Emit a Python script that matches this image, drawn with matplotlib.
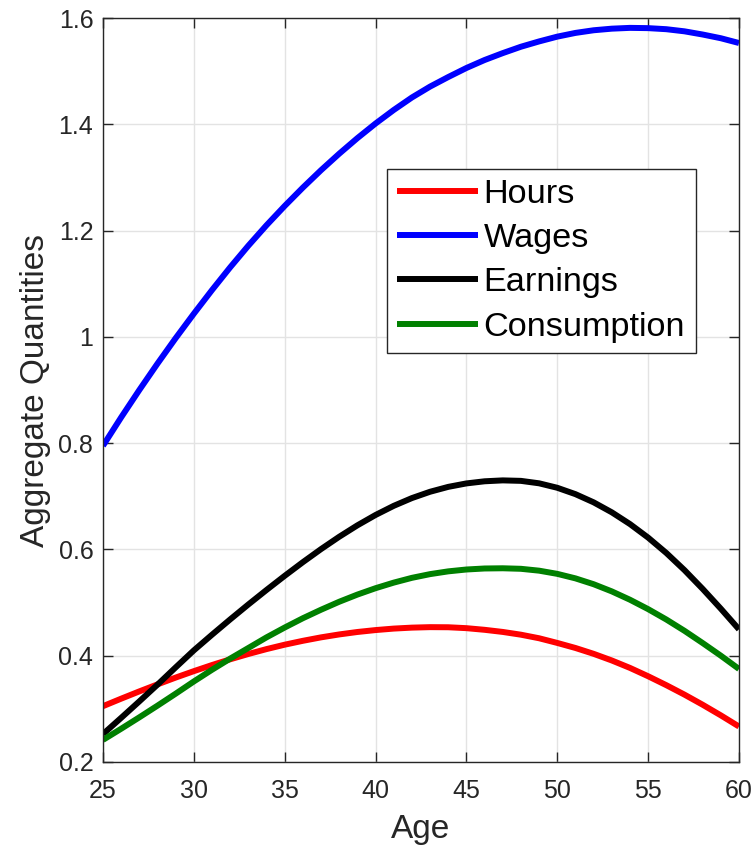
import numpy as np
import matplotlib
matplotlib.use("Agg")
import matplotlib.pyplot as plt

plt.rcParams["font.family"] = ["Liberation Sans", "DejaVu Sans"]

# Life-cycle profiles by age
ages = np.arange(25, 61)

hours = [0.305, 0.3191, 0.3328, 0.3460, 0.3588, 0.3709, 0.3824, 0.3932, 0.4032, 0.4124,
         0.4207, 0.4280, 0.4345, 0.4400, 0.4446, 0.4482, 0.4510, 0.4528, 0.4537, 0.4535,
         0.4518, 0.4487, 0.4447, 0.4395, 0.4328, 0.4240, 0.4145, 0.4035, 0.3910, 0.3770,
         0.3613, 0.3445, 0.3267, 0.3077, 0.2877, 0.2667]

wages = [0.795, 0.8485, 0.900, 0.9497, 0.9976, 1.0436, 1.0881, 1.1309, 1.1716, 1.2101,
         1.2464, 1.2809, 1.3137, 1.3447, 1.374, 1.4015, 1.427, 1.4505, 1.471, 1.489,
         1.506, 1.521, 1.534, 1.546, 1.556, 1.565, 1.572, 1.577, 1.580, 1.5815,
         1.581, 1.579, 1.575, 1.569, 1.562, 1.553]

earnings = [0.2525, 0.283, 0.314, 0.3455, 0.378, 0.410, 0.4395, 0.4683, 0.4964, 0.5237,
            0.5503, 0.5760, 0.6006, 0.6238, 0.6453, 0.6648, 0.6820, 0.6966, 0.7085, 0.7177,
            0.7242, 0.7282, 0.7299, 0.7290, 0.7244, 0.7160, 0.7040, 0.6886, 0.6698, 0.6477,
            0.6222, 0.5933, 0.5610, 0.5257, 0.4884, 0.4496]

consumption = [0.2415, 0.2625, 0.284, 0.306, 0.3285, 0.3515, 0.3735, 0.3945, 0.4145, 0.4345,
               0.453, 0.4705, 0.4865, 0.5015, 0.515, 0.527, 0.5375, 0.5465, 0.5535, 0.5587,
               0.5622, 0.5641, 0.5645, 0.5635, 0.560, 0.554, 0.5455, 0.5345, 0.521, 0.5053,
               0.4876, 0.4681, 0.4468, 0.4238, 0.4000, 0.375]

series = [
    ("Hours", hours, (1.0, 0.0, 0.0)),
    ("Wages", wages, (0.0, 0.0, 1.0)),
    ("Earnings", earnings, (0.0, 0.0, 0.0)),
    ("Consumption", consumption, (0.0, 0.5, 0.0)),
]

x_ticks = [25, 30, 35, 40, 45, 50, 55, 60]
y_ticks = [0.2, 0.4, 0.6, 0.8, 1.0, 1.2, 1.4, 1.6]
y_tick_labels = ["0.2", "0.4", "0.6", "0.8", "1", "1.2", "1.4", "1.6"]

ink = "#262626"

fig = plt.figure(figsize=(7.55, 8.47), dpi=100)
ax = fig.add_axes([0.1364, 0.1004, 0.8424, 0.8783])

for name, vals, col in series:
    ax.plot(ages, vals, color=col, linewidth=4.3, label=name, solid_capstyle="butt")

ax.set_xlim(25, 60)
ax.set_ylim(0.2, 1.6)
ax.set_xticks(x_ticks)
ax.set_yticks(y_ticks)
ax.set_yticklabels(y_tick_labels)

ax.grid(True, color="#e3e3e3", linewidth=1.0)
ax.set_axisbelow(True)

ax.tick_params(direction="in", length=7, width=1.0, colors=ink, labelsize=18,
               top=True, right=True)
ax.tick_params(axis="x", pad=12)
ax.tick_params(axis="y", pad=7)
for sp in ax.spines.values():
    sp.set_color(ink)
    sp.set_linewidth(1.0)

ax.set_xlabel("Age", fontsize=24, color=ink, labelpad=8)
ax.set_ylabel("Aggregate Quantities", fontsize=24, color=ink, labelpad=5)

leg = ax.legend(loc="upper left", bbox_to_anchor=(0.446, 0.797), borderaxespad=0,
                fontsize=24.7, handlelength=2.36, handletextpad=0.17, borderpad=0.3,
                labelspacing=0.38, fancybox=False, framealpha=1, edgecolor=ink)
leg.get_frame().set_linewidth(1.0)

fig.savefig("out.png", dpi=100)
